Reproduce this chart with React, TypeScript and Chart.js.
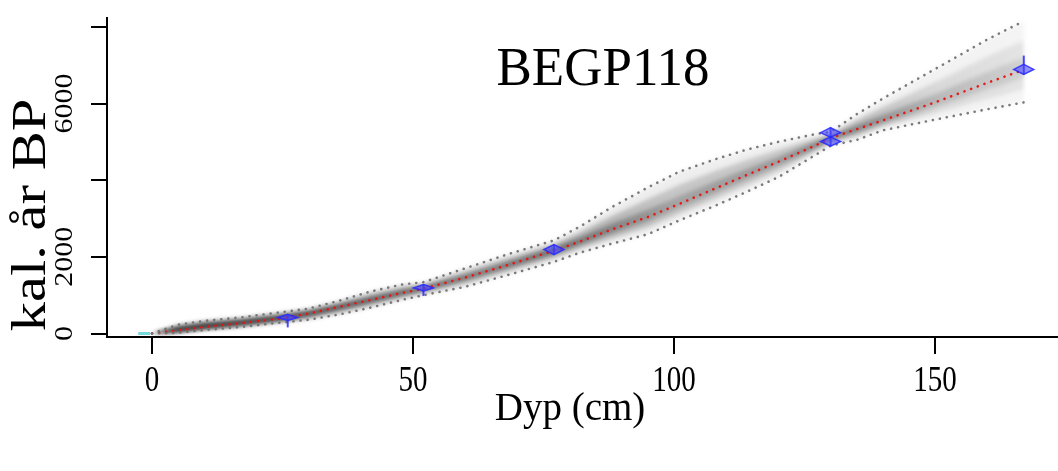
import React, { useEffect, useRef } from "react";
import { Chart, registerables } from "chart.js";

Chart.register(...registerables);

// ---- data ----
const depths = [0, 5, 10, 17, 25, 30, 36, 42, 48, 52, 60, 68, 77, 82, 88, 95, 101, 108, 114, 120, 127, 130, 135, 140, 150, 160, 167];
const meanAge = [0, 80, 170, 270, 400, 520, 700, 880, 1060, 1170, 1460, 1780, 2160, 2400, 2710, 3040, 3380, 3790, 4140, 4480, 4900, 5100, 5330, 5560, 6030, 6540, 6880];
const upperAge = [0, 230, 330, 420, 560, 650, 860, 1100, 1280, 1340, 1700, 2060, 2430, 2790, 3290, 3810, 4220, 4550, 4800, 5000, 5200, 5260, 5720, 6130, 6900, 7670, 8150];
const lowerAge = [0, 20, 90, 170, 290, 360, 500, 680, 880, 1000, 1220, 1520, 1870, 2110, 2340, 2590, 2950, 3340, 3700, 4080, 4650, 4900, 5050, 5300, 5580, 5850, 6030];
const midUpper = [0, 170, 266, 360, 496, 598, 796, 1012, 1192, 1272, 1604, 1948, 2322, 2634, 3058, 3502, 3884, 4246, 4536, 4792, 5080, 5196, 5564, 5902, 6552, 7218, 7642];
const midLower = [0, 44, 122, 210, 334, 424, 580, 760, 952, 1068, 1316, 1624, 1986, 2226, 2488, 2770, 3122, 3520, 3876, 4240, 4750, 4980, 5162, 5404, 5760, 6126, 6370];
const coreUpper = [0, 118, 210, 308, 440, 552, 740, 935, 1115, 1212, 1520, 1850, 2228, 2498, 2855, 3232, 3590, 3980, 4305, 4610, 4975, 5140, 5428, 5702, 6248, 6822, 7198];
const coreLower = [0, 65, 150, 245, 372, 480, 650, 830, 1015, 1128, 1400, 1715, 2088, 2328, 2618, 2928, 3272, 3678, 4030, 4380, 4838, 5050, 5260, 5495, 5918, 6368, 6668];

const dateDepths = [26, 52, 77, 130, 130, 167];
const dateAges = [420, 1190, 2190, 5240, 5010, 6890];
const dateLow = [340, 1110, 2060, 5120, 4890, 6760];
const dateHigh = [500, 1280, 2320, 5370, 5130, 7020];
const whiskerLow = [160, 980, 2060, 5120, 4890, 6760];
const whiskerHigh = [500, 1280, 2320, 5370, 5130, 7250];

const surfaceDepths = [-1.5];
const surfaceAges = [0];

const xTicks = [0, 50, 100, 150];
const xTickLabels = ["0", "50", "100", "150"];
const yTicks = [0, 2000, 4000, 6000, 8000];
const yTickLabels = ["0", "2000", "", "6000", ""];

const chartTitle = "BEGP118";
const xTitle = "Dyp (cm)";
const yTitle = "kal. år BP";

const SERIF = '"Liberation Serif", "Times New Roman", serif';

const pts = (ys: number[]) => depths.map((d, i) => ({ x: d, y: ys[i] }));

// shading: [upper, lower, gradient stops (fraction along depth, alpha)]
const shadeBands: [number[], number[], [number, number][]][] = [
  [upperAge, lowerAge, [[0, 0.45], [0.2, 0.2], [0.4, 0.1], [0.6, 0.08], [0.8, 0.07], [1, 0.05]]],
  [midUpper, midLower, [[0, 0.8], [0.12, 0.6], [0.25, 0.35], [0.35, 0.3], [0.46, 0.32], [0.6, 0.2], [0.72, 0.2], [0.78, 0.3], [0.9, 0.12], [1, 0.08]]],
  [coreUpper, coreLower, [[0, 1], [0.12, 0.9], [0.24, 0.6], [0.31, 0.55], [0.39, 0.4], [0.46, 0.5], [0.6, 0.22], [0.72, 0.28], [0.78, 0.45], [0.9, 0.18], [1, 0.1]]],
];

const shadePlugin = {
  id: "shadePlugin",
  beforeDatasetsDraw(chart: any) {
    const { ctx, chartArea } = chart;
    const xs = chart.scales.x;
    const ys = chart.scales.y;
    ctx.save();
    ctx.beginPath();
    ctx.rect(chartArea.left, chartArea.top, chartArea.right - chartArea.left, chartArea.bottom - chartArea.top);
    ctx.clip();
    ctx.filter = "blur(2px)";
    const x0 = xs.getPixelForValue(depths[0]);
    const x1 = xs.getPixelForValue(depths[depths.length - 1]);
    shadeBands.forEach(([up, lo, stops]) => {
      const g = ctx.createLinearGradient(x0, 0, x1, 0);
      stops.forEach(([p, a]) => g.addColorStop(p, `rgba(40,40,40,${a})`));
      ctx.beginPath();
      depths.forEach((d, i) => {
        const px = xs.getPixelForValue(d);
        const py = ys.getPixelForValue(up[i]);
        if (i === 0) ctx.moveTo(px, py);
        else ctx.lineTo(px, py);
      });
      for (let i = depths.length - 1; i >= 0; i--) {
        ctx.lineTo(xs.getPixelForValue(depths[i]), ys.getPixelForValue(lo[i]));
      }
      ctx.closePath();
      ctx.fillStyle = g;
      ctx.fill();
    });
    ctx.filter = "none";
    ctx.restore();
  },
};

const datesPlugin = {
  id: "datesPlugin",
  afterDatasetsDraw(chart: any) {
    const { ctx } = chart;
    const xs = chart.scales.x;
    const ys = chart.scales.y;
    ctx.save();
    dateDepths.forEach((d, i) => {
      const px = xs.getPixelForValue(d);
      ctx.strokeStyle = "rgba(40,40,255,0.85)";
      ctx.lineWidth = 2;
      ctx.beginPath();
      ctx.moveTo(px, ys.getPixelForValue(whiskerLow[i]));
      ctx.lineTo(px, ys.getPixelForValue(whiskerHigh[i]));
      ctx.stroke();
      const pyc = ys.getPixelForValue(dateAges[i]);
      const pyl = ys.getPixelForValue(dateLow[i]);
      const pyh = ys.getPixelForValue(dateHigh[i]);
      const hw = 10;
      ctx.beginPath();
      ctx.moveTo(px, pyh);
      ctx.lineTo(px + hw, pyc);
      ctx.lineTo(px, pyl);
      ctx.lineTo(px - hw, pyc);
      ctx.closePath();
      ctx.fillStyle = "rgba(70,70,255,0.6)";
      ctx.fill();
      ctx.lineWidth = 1.5;
      ctx.strokeStyle = "rgba(40,40,255,0.85)";
      ctx.stroke();
    });
    ctx.restore();
  },
};

function stretchedText(ctx: any, text: string, x: number, y: number, rot: number, sAlong: number, sAcross: number) {
  ctx.save();
  ctx.translate(x, y);
  ctx.rotate(rot);
  ctx.scale(sAlong, sAcross);
  ctx.fillText(text, 0, 0);
  ctx.restore();
}

const textPlugin = {
  id: "textPlugin",
  afterDraw(chart: any) {
    const { ctx } = chart;
    const xs = chart.scales.x;
    const ys = chart.scales.y;
    ctx.save();
    ctx.fillStyle = "#000";
    ctx.textBaseline = "alphabetic";
    ctx.textAlign = "center";
    ctx.font = `29px ${SERIF}`;
    xTicks.forEach((v, i) => {
      stretchedText(ctx, xTickLabels[i], xs.getPixelForValue(v), 391, 0, 1, 1.25);
    });
    ctx.font = `25px ${SERIF}`;
    yTicks.forEach((v, i) => {
      const lab = yTickLabels[i];
      if (!lab) return;
      stretchedText(ctx, lab, 72, ys.getPixelForValue(v), -Math.PI / 2, 1.2, 1);
    });
    ctx.font = `48px ${SERIF}`;
    stretchedText(ctx, yTitle, 45, 215, -Math.PI / 2, 1.22, 1);
    ctx.font = `39px ${SERIF}`;
    ctx.fillText(xTitle, 570, 420);
    ctx.font = `53px ${SERIF}`;
    stretchedText(ctx, chartTitle, 603, 85, 0, 1, 1.05);
    ctx.restore();
  },
};

export default function App() {
  const canvasRef = useRef<HTMLCanvasElement | null>(null);

  useEffect(() => {
    if (!canvasRef.current) return;
    const dotted = (color: string) => ({
      borderColor: color,
      borderWidth: 2.6,
      borderDash: [0.1, 7],
      borderCapStyle: "round" as const,
      pointRadius: 0,
      fill: false,
      tension: 0,
    });
    const chart = new Chart(canvasRef.current, {
      type: "line",
      data: {
        datasets: [
          { label: "upper", data: pts(upperAge), ...dotted("rgba(115,115,115,0.95)") },
          { label: "lower", data: pts(lowerAge), ...dotted("rgba(115,115,115,0.95)") },
          { label: "mean", data: pts(meanAge), ...dotted("rgba(230,20,20,0.95)") },
          {
            type: "scatter",
            label: "surface",
            data: surfaceDepths.map((d, i) => ({ x: d, y: surfaceAges[i] })),
            pointStyle: "line",
            pointRadius: 6,
            borderColor: "rgba(60,200,200,0.7)",
            borderWidth: 3,
          } as any,
        ],
      },
      options: {
        responsive: false,
        maintainAspectRatio: false,
        animation: false,
        devicePixelRatio: 1,
        layout: { autoPadding: false, padding: { top: 18, left: 0, right: 0, bottom: 0 } },
        plugins: { legend: { display: false }, tooltip: { enabled: false }, title: { display: false } },
        scales: {
          x: {
            type: "linear",
            position: "bottom",
            min: -8.62,
            max: 173.56,
            afterBuildTicks: (s: any) => {
              s.ticks = xTicks.map((v) => ({ value: v }));
            },
            afterFit: (s: any) => {
              s.height = 134;
            },
            ticks: { display: false },
            grid: { display: true, drawOnChartArea: false, drawTicks: true, tickLength: 17, color: "#000", lineWidth: 2 },
            border: { display: true, color: "#000", width: 2 },
          },
          y: {
            type: "linear",
            min: -91,
            max: 8231,
            afterBuildTicks: (s: any) => {
              s.ticks = yTicks.map((v) => ({ value: v }));
            },
            afterFit: (s: any) => {
              s.width = 107;
            },
            ticks: { display: false },
            grid: { display: true, drawOnChartArea: false, drawTicks: true, tickLength: 16, color: "#000", lineWidth: 2 },
            border: { display: true, color: "#000", width: 2 },
          },
        },
      },
      plugins: [shadePlugin, datesPlugin, textPlugin],
    } as any);
    return () => chart.destroy();
  }, []);

  return (
    <div style={{ position: "fixed", left: 0, top: 0, width: 1058, height: 471, background: "#fff" }}>
      <canvas ref={canvasRef} width={1058} height={471} style={{ display: "block", width: 1058, height: 471 }} />
    </div>
  );
}
